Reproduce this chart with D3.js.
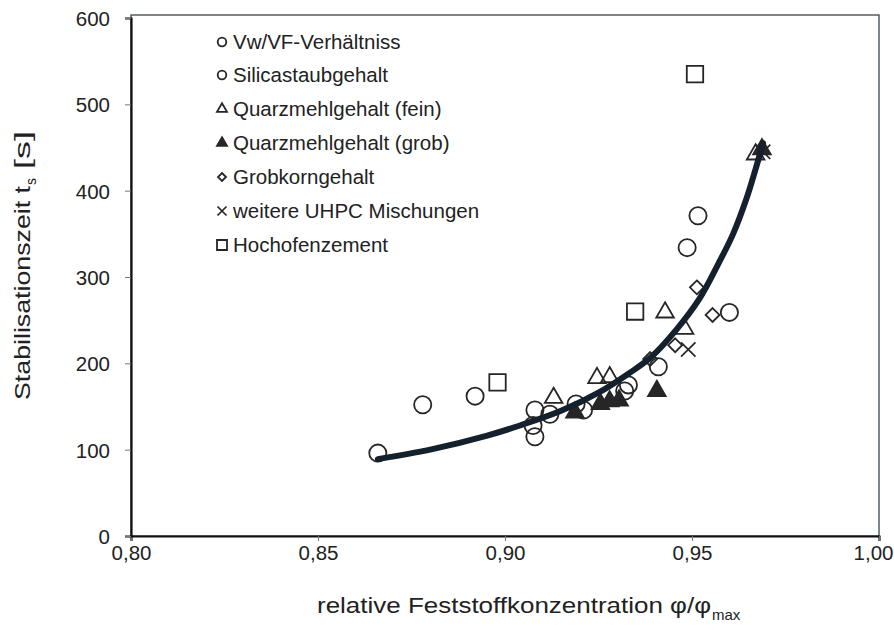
<!DOCTYPE html>
<html><head><meta charset="utf-8">
<script src="https://cdn.jsdelivr.net/npm/d3@7"></script>
<style>body{margin:0;background:#fff}svg text{font-family:"Liberation Sans",Arial,sans-serif;fill:#222}</style>
</head><body><svg id="c" width="894" height="629"></svg>
<script>
const xTicks = [0.80, 0.85, 0.90, 0.95, 1.00];
const yTicks = [0, 100, 200, 300, 400, 500, 600];
const seriesNames = ["Vw/VF-Verhältniss","Silicastaubgehalt","Quarzmehlgehalt (fein)","Quarzmehlgehalt (grob)","Grobkorngehalt","weitere UHPC Mischungen","Hochofenzement"];
const vwvf = [[0.866,96],[0.878,152],[0.892,162],[0.908,146],[0.9075,128],[0.908,115]];
const silica = [[0.912,141],[0.919,153],[0.921,146],[0.932,168],[0.933,175],[0.941,196],[0.9487,334],[0.9516,371],[0.960,259]];
const quarzFein = [[0.913,160],[0.9246,183],[0.928,184],[0.9428,259],[0.948,240],[0.967,442]];
const quarzGrob = [[0.9187,143],[0.9255,153],[0.928,156],[0.9305,157],[0.9406,168],[0.9687,448]];
const grobkorn = [[0.9388,205],[0.9455,221],[0.9513,288],[0.9555,256]];
const uhpc = [[0.949,216],[0.969,445]];
const hochofen = [[0.898,178],[0.9348,260],[0.9508,535]];
const fitCurve = [[0.866,89],[0.880,100],[0.895,116],[0.904,128],[0.915,145],[0.925,166],[0.933,188],[0.939,207],[0.946,240],[0.952,275],[0.957,315],[0.961,350],[0.9645,390],[0.967,425],[0.969,455]];

const svg = d3.select("#c");
const L=131,R=879,T=15,B=536;
const x = d3.scaleLinear().domain([0.80,1.00]).range([L,R]);
const y = d3.scaleLinear().domain([0,600]).range([B,18]);
const ink="#262626";

// frame
svg.append("rect").attr("x",L).attr("y",T).attr("width",R-L).attr("height",B-T)
  .attr("fill","none").attr("stroke","#3a4550").attr("stroke-width",1.3);

const fmt = d => d3.format(".2f")(d).replace(".",",");
const xa = svg.append("g").attr("transform",`translate(0,${B})`)
  .call(d3.axisBottom(x).tickValues(xTicks).tickSize(5).tickFormat(fmt));
const ya = svg.append("g").attr("transform",`translate(${L},0)`)
  .call(d3.axisLeft(y).tickValues(yTicks).tickSize(6).tickFormat(d3.format("d")));
[xa,ya].forEach(a=>{a.select(".domain").attr("stroke","#111").attr("stroke-width",2.2);
  a.selectAll(".tick line").attr("stroke","#777");
  a.selectAll("text").attr("font-size",20.5).attr("fill","#222");});
xa.selectAll("text").attr("dy",0).attr("y",24);
xa.selectAll(".tick").filter(d=>d===1.00).select("text").attr("text-anchor","end").attr("x",14);
ya.selectAll("text").attr("x",-21).attr("dy","0.36em");

// axis titles
const yg = svg.append("g").attr("transform","translate(30,400) rotate(-90)");
yg.append("text").attr("x",0).attr("y",0).attr("font-size",22).attr("textLength",214).attr("lengthAdjust","spacingAndGlyphs").text("Stabilisationszeit t");
yg.append("text").attr("x",215).attr("y",6).attr("font-size",14).text("s");
yg.append("text").attr("x",231).attr("y",0).attr("font-size",22).attr("textLength",38).attr("lengthAdjust","spacingAndGlyphs").text("[s]");
svg.append("text").attr("x",317).attr("y",613).attr("font-size",22).attr("textLength",394).attr("lengthAdjust","spacingAndGlyphs")
  .text("relative Feststoffkonzentration φ/φ");
svg.append("text").attr("x",712).attr("y",620).attr("font-size",15).text("max");

// markers
function sym(g,type,s,filled){
  if(type==="x"){
    g.append("path").attr("d",`M${-s},${-s}L${s},${s}M${-s},${s}L${s},${-s}`)
      .attr("stroke",ink).attr("stroke-width",1.7).attr("fill","none");
    return;
  }
  const map={circle:d3.symbolCircle,triangle:d3.symbolTriangle,diamond:d3.symbolDiamond2,square:d3.symbolSquare};
  const area={circle:Math.PI*s*s,triangle:(s*2)*(s*2)*Math.sqrt(3)/4,diamond:(s*1.42)*(s*1.42),square:(s*2)*(s*2)}[type];
  g.append("path").attr("d",d3.symbol().type(map[type]).size(area)())
    .attr("fill",filled?ink:"none").attr("stroke",ink).attr("stroke-width",1.8);
}
const groups=[
  {data:vwvf,type:"circle",s:8.6,lsize:4.3,filled:false},
  {data:silica,type:"circle",s:8.6,lsize:4.3,filled:false},
  {data:quarzFein,type:"triangle",s:8.8,lsize:5,filled:false},
  {data:quarzGrob,type:"triangle",s:8.8,lsize:5,filled:true},
  {data:grobkorn,type:"diamond",s:7.8,lsize:4.5,filled:false},
  {data:uhpc,type:"x",s:7.2,lsize:4.5,filled:false},
  {data:hochofen,type:"square",s:8.2,lsize:5,filled:false}
];
groups.forEach(gr=>{
  gr.data.forEach(d=>{
    const g=svg.append("g").attr("transform",`translate(${x(d[0])},${y(d[1])})`);
    sym(g,gr.type,gr.s,gr.filled);
  });
});

// curve
svg.append("path").datum(fitCurve)
  .attr("d",d3.line().x(d=>x(d[0])).y(d=>y(d[1])).curve(d3.curveCatmullRom))
  .attr("fill","none").attr("stroke","#15202d").attr("stroke-width",6).attr("stroke-linecap","round");

// legend
const legY=[42,75,109,143,177,211,245];
groups.forEach((gr,i)=>{
  const g=svg.append("g").attr("transform",`translate(222,${legY[i]})`);
  sym(g,gr.type,gr.lsize,gr.filled);
  svg.append("text").attr("x",233).attr("y",legY[i]).attr("dy","0.36em").attr("font-size",20.5).text(seriesNames[i]);
});
</script></body></html>
